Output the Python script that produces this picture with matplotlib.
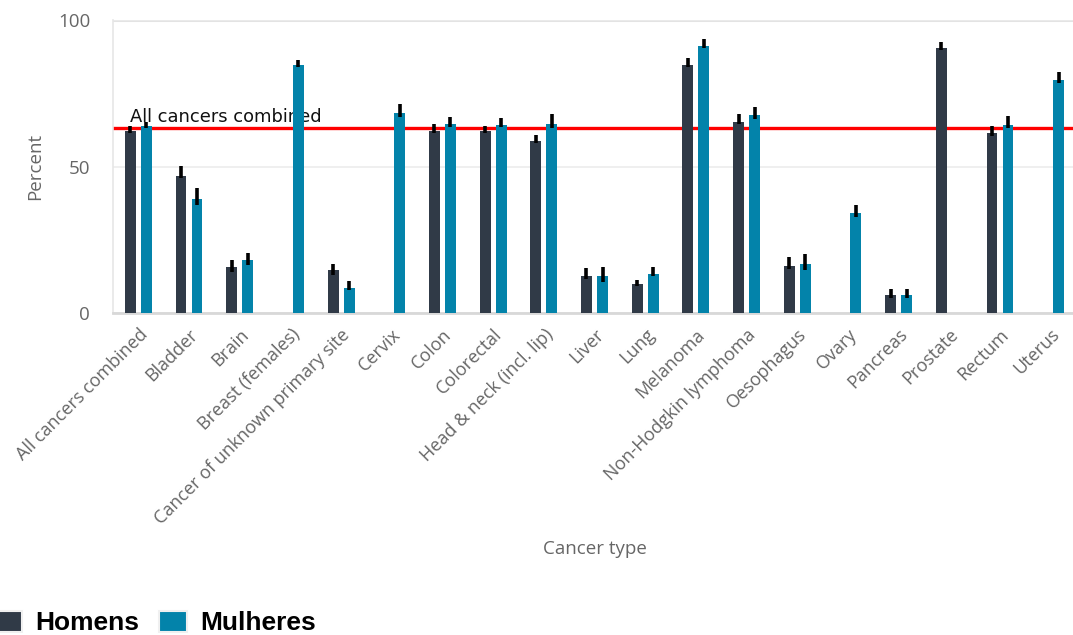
import numpy as np
import matplotlib
matplotlib.use("Agg")
import matplotlib.pyplot as plt
from matplotlib.patches import Patch

CATEGORIES = ["All cancers combined", "Bladder", "Brain", "Breast (females)",
              "Cancer of unknown primary site", "Cervix", "Colon", "Colorectal",
              "Head & neck (incl. lip)", "Liver", "Lung", "Melanoma",
              "Non-Hodgkin lymphoma", "Oesophagus", "Ovary", "Pancreas",
              "Prostate", "Rectum", "Uterus"]

# survival (%) by sex; NaN where the cancer does not apply
MEN = [62.0, 46.9, 15.8, np.nan, 14.6, np.nan, 62.0, 62.0, 58.8, 12.6,
       9.8, 84.6, 65.2, 16.1, np.nan, 6.0, 90.5, 61.4, np.nan]
WOMEN = [63.7, 38.9, 18.0, 84.6, 8.7, 68.3, 64.6, 64.3, 64.6, 12.6,
         13.5, 91.1, 67.5, 16.7, 34.0, 6.0, np.nan, 64.3, 79.4]

# confidence interval half-widths (below, above)
MEN_LO = [0.5, 0.8, 1.7, 0, 1.7, 0, 0.6, 0.6, 0.8, 1.1,
          0.7, 0.7, 0.6, 0.9, 0, 0.7, 0.6, 0.9, 0]
MEN_HI = [1.7, 3.3, 2.3, 0, 2.3, 0, 2.6, 1.7, 2.1, 2.9,
          1.6, 2.3, 2.9, 3.1, 0, 2.3, 1.9, 2.3, 0]
WOMEN_LO = [0.5, 2.0, 1.7, 0.5, 1.0, 1.4, 1.1, 0.8, 1.5, 1.9,
            0.9, 0.6, 1.1, 2.0, 1.1, 0.7, 0, 1.1, 0.8]
WOMEN_HI = [1.5, 3.7, 2.5, 1.6, 2.2, 3.1, 2.3, 2.3, 3.4, 3.2,
            2.3, 2.5, 2.7, 3.4, 2.9, 2.3, 0, 2.9, 2.9]

ALL_COMBINED = 63.0

C_MEN = "#303a47"
C_WOMEN = "#0383aa"
GREY = "#666666"

plt.rcParams["font.family"] = ["Open Sans", "DejaVu Sans"]

fig = plt.figure(figsize=(10.73, 6.35), dpi=100)
ax = fig.add_axes([0.1053, 0.507, 0.8975, 0.4614])

x = np.arange(len(CATEGORIES))
w, off = 0.215, 0.158

ax.axhline(ALL_COMBINED, color="#ff0000", lw=2.4, zorder=1.5)
ax.text(-0.17, ALL_COMBINED + 0.9, "All cancers combined", fontsize=12.9,
        family="DejaVu Sans", color="#111111", ha="left", va="bottom", zorder=1)

men = np.array(MEN)
women = np.array(WOMEN)
ax.bar(x - off, men, width=w, color=C_MEN, zorder=3)
ax.bar(x + off, women, width=w, color=C_WOMEN, zorder=3)

m = ~np.isnan(men)
ax.errorbar(x[m] - off, men[m], yerr=[np.array(MEN_LO)[m], np.array(MEN_HI)[m]],
            fmt="none", ecolor="black", elinewidth=2.6, capsize=0, zorder=4)
f = ~np.isnan(women)
ax.errorbar(x[f] + off, women[f], yerr=[np.array(WOMEN_LO)[f], np.array(WOMEN_HI)[f]],
            fmt="none", ecolor="black", elinewidth=2.6, capsize=0, zorder=4)

ax.set_xlim(-0.5, len(CATEGORIES) - 0.5)
ax.set_ylim(0, 100)
ax.set_yticks([0, 50, 100])
ax.yaxis.grid(True, color="#ececec", lw=1.2, zorder=0)
ax.set_axisbelow(True)
for s in ["right", "top"]:
    ax.spines[s].set_visible(False)
ax.spines["left"].set_color("#e6e6e6")
ax.spines["left"].set_linewidth(1.2)
ax.spines["bottom"].set_color("#d8d8d8")
ax.spines["bottom"].set_linewidth(2)
ax.axhline(100, color="#e3e3e3", lw=2.2, zorder=0)

ax.tick_params(axis="y", length=0, pad=16.5, labelsize=13.5, labelcolor=GREY)
ax.tick_params(axis="x", length=0, pad=9, labelsize=13, labelcolor=GREY)
ax.set_xticks(x)
ax.set_xticklabels(CATEGORIES, rotation=45, ha="right", va="top",
                   rotation_mode="anchor")

ax.set_ylabel("Percent", fontsize=13.5, color=GREY)
ax.yaxis.set_label_coords(-0.072, 0.5)
ax.set_xlabel("Cancer type", fontsize=13.5, color=GREY)
ax.xaxis.set_label_coords(0.5, -0.775)

handles = [Patch(facecolor=C_MEN, edgecolor="#f0f0f0", lw=1.5, label="Homens"),
           Patch(facecolor=C_WOMEN, edgecolor="#f0f0f0", lw=1.5, label="Mulheres")]
fig.legend(handles=handles, loc="lower left", bbox_to_anchor=(-0.027, -0.038),
           ncol=2, frameon=False, handlelength=1.05, handleheight=0.85,
           handletextpad=0.5, columnspacing=0.75,
           prop={"family": "Liberation Sans", "weight": "bold", "size": 19})

fig.savefig("out.png", dpi=100)
